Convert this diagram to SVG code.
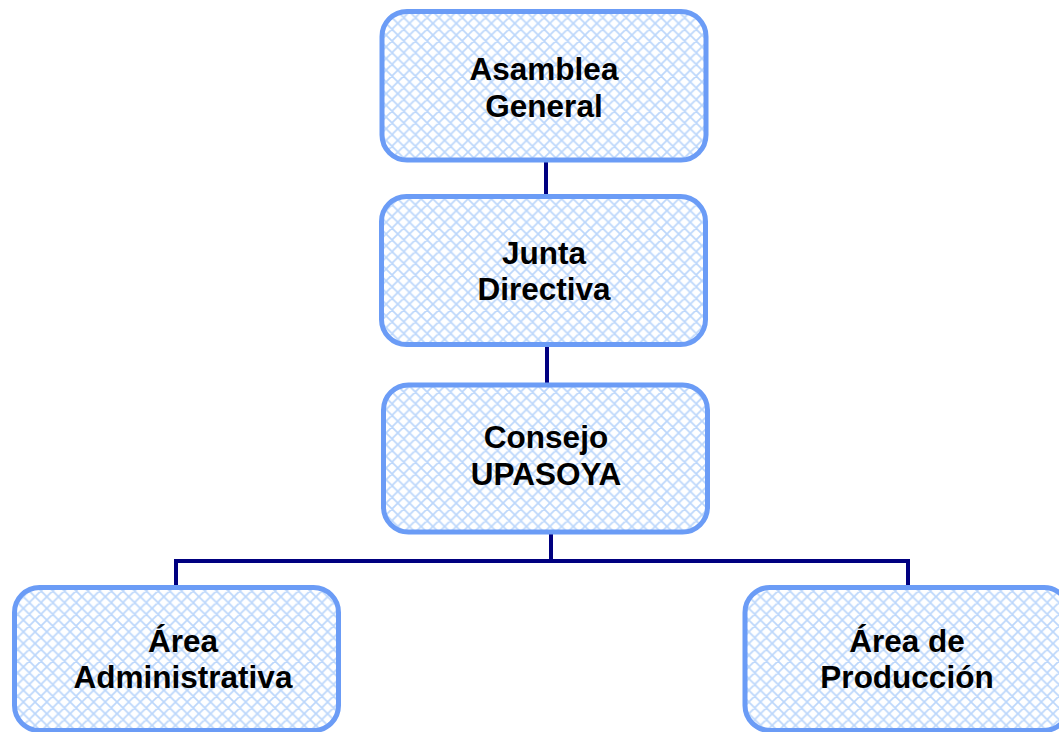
<svg xmlns="http://www.w3.org/2000/svg" width="1059" height="732" viewBox="0 0 1059 732">
<defs>
<pattern id="hatch" patternUnits="userSpaceOnUse" width="11.7" height="11.7">
<rect width="11.7" height="11.7" fill="#ffffff"/>
<path d="M0,0 L11.7,11.7 M11.7,0 L0,11.7 M-1,10.7 L1,12.7 M10.7,-1 L12.7,1 M-1,1 L1,-1 M10.7,12.7 L12.7,10.7" stroke="#bcd7fb" stroke-width="1.7" fill="none"/>
</pattern>
</defs>
<style>
.box{fill:url(#hatch);stroke:#6b9cf6;stroke-width:5}
.lbl{font-family:"Liberation Sans",Arial,sans-serif;font-weight:bold;font-size:31.5px;fill:#000;text-anchor:middle}
.con{stroke:#000080;stroke-width:4;fill:none}
</style>
<rect width="1059" height="732" fill="#ffffff"/>
<g id="connectors">
<line class="con" x1="546" y1="162" x2="546" y2="195"/>
<line class="con" x1="547" y1="347" x2="547" y2="383"/>
<line class="con" x1="551" y1="534" x2="551" y2="561"/>
<polyline class="con" points="176,586 176,561 908,561 908,586"/>
</g>
<g id="n1">
<rect class="box" x="382" y="11.5" width="324" height="148.5" rx="25"/>
<text class="lbl" x="544" y="80">Asamblea</text>
<text class="lbl" x="544" y="117">General</text>
</g>
<g id="n2">
<rect class="box" x="381.5" y="196.5" width="324" height="148" rx="25"/>
<text class="lbl" x="544" y="264">Junta</text>
<text class="lbl" x="544" y="300">Directiva</text>
</g>
<g id="n3">
<rect class="box" x="383.5" y="385" width="324" height="147" rx="25"/>
<text class="lbl" x="546" y="448">Consejo</text>
<text class="lbl" x="546" y="485">UPASOYA</text>
</g>
<g id="n4">
<rect class="box" x="14.5" y="587.5" width="324" height="143" rx="25"/>
<text class="lbl" x="183" y="652">Área</text>
<text class="lbl" x="183" y="688">Administrativa</text>
</g>
<g id="n5">
<rect class="box" x="745" y="587.5" width="324" height="143" rx="25"/>
<text class="lbl" x="907" y="652">Área de</text>
<text class="lbl" x="907" y="688">Producción</text>
</g>
</svg>
